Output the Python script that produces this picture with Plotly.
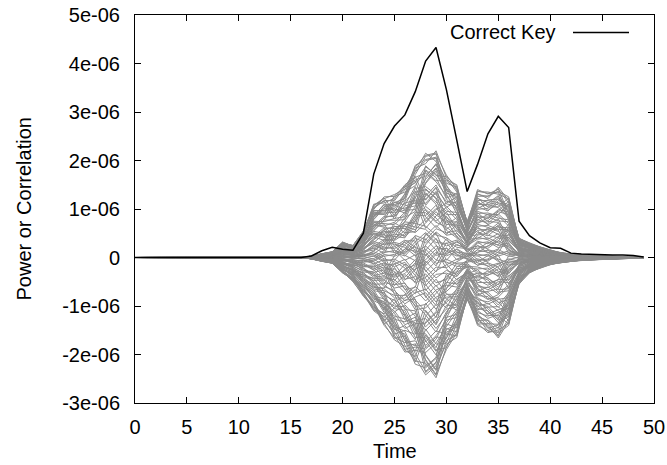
import plotly.graph_objects as go

# ---- data (values in units of 1e-6) ----
time = list(range(50))

correct_key = [0, 0, 0, 0, 0, 0, 0, 0, 0, 0,
               0, 0, 0, 0, 0, 0, 0, 0.03, 0.14, 0.21,
               0.17, 0.15, 0.50, 1.72, 2.35, 2.71, 2.94, 3.42, 4.05, 4.33,
               3.46, 2.42, 1.36, 1.92, 2.55, 2.91, 2.68, 0.75, 0.45, 0.30,
               0.20, 0.19, 0.09, 0.07, 0.06, 0.05, 0.05, 0.05, 0.04, 0.01]

# upper / lower extent of the other-key correlation band (magnitudes)
gray_upper = [0, 0, 0, 0, 0, 0, 0, 0, 0, 0,
              0, 0, 0, 0, 0, 0, 0, 0.03, 0.08, 0.12,
              0.32, 0.25, 0.55, 1.10, 1.25, 1.30, 1.50, 1.90, 2.15, 2.20,
              1.70, 1.50, 0.75, 1.40, 1.35, 1.45, 1.25, 0.40, 0.30, 0.22,
              0.15, 0.10, 0.07, 0.05, 0.04, 0.03, 0.02, 0.02, 0.01, 0.01]
gray_lower = [0, 0, 0, 0, 0, 0, 0, 0, 0, 0,
              0, 0, 0, 0, 0, 0, 0, 0.03, 0.08, 0.12,
              0.32, 0.50, 0.80, 1.10, 1.40, 1.70, 1.95, 2.20, 2.42, 2.48,
              1.90, 1.65, 0.87, 1.40, 1.55, 1.66, 1.40, 0.55, 0.32, 0.22,
              0.15, 0.11, 0.08, 0.06, 0.05, 0.04, 0.03, 0.02, 0.02, 0.01]
# relative positions of the other-key lines inside the band (two families)
gray_levels_a = [-1.0, -0.97, -0.94, -0.9, -0.87, -0.84, -0.81, -0.78, -0.75, -0.71,
                 -0.68, -0.65, -0.62, -0.59, -0.56, -0.52, -0.49, -0.46, -0.43, -0.4,
                 -0.37, -0.33, -0.3, -0.27, -0.24, -0.21, -0.17, -0.14, -0.11, -0.08,
                 -0.05, -0.02, 0.02, 0.05, 0.08, 0.11, 0.14, 0.17, 0.21, 0.24,
                 0.27, 0.3, 0.33, 0.37, 0.4, 0.43, 0.46, 0.49, 0.52, 0.56,
                 0.59, 0.62, 0.65, 0.68, 0.71, 0.75, 0.78, 0.81, 0.84, 0.87,
                 0.9, 0.94, 0.97, 1.0]
gray_levels_b = [-0.98, -0.93, -0.88, -0.83, -0.77, -0.72, -0.66, -0.61, -0.55, -0.5,
                 -0.45, -0.39, -0.34, -0.28, -0.23, -0.18, -0.12, -0.07, -0.03, 0.03,
                 0.07, 0.12, 0.18, 0.23, 0.28, 0.34, 0.39, 0.45, 0.5, 0.55,
                 0.61, 0.66, 0.72, 0.77, 0.83, 0.88, 0.93, 0.98]
# how far lines jump in rank between consecutive samples
rank_jump_a = [1, 1, 1, 1, 1, 1, 1, 1, 1, 1,
               1, 1, 1, 1, 1, 1, 1, 1, 2, 1,
               3, 1, 2, 3, 1, 2, 4, 2, 3, 1,
               2, 3, 2, 1, 3, 2, 4, 1, 2, 1,
               3, 1, 2, 1, 2, 1, 1, 1, 1, 1]
rank_jump_b = [1, 1, 1, 1, 1, 1, 1, 1, 1, 1,
               1, 1, 1, 1, 1, 1, 1, 2, 1, 2,
               1, 3, 1, 2, 5, 3, 1, 6, 2, 4,
               3, 1, 4, 2, 1, 5, 1, 3, 1, 2,
               1, 2, 1, 3, 1, 2, 1, 1, 1, 1]

y_tickvals = [-3, -2, -1, 0, 1, 2, 3, 4, 5]
y_ticktext = ["-3e-06", "-2e-06", "-1e-06", "0", "1e-06", "2e-06", "3e-06", "4e-06", "5e-06"]
x_tickvals = [0, 5, 10, 15, 20, 25, 30, 35, 40, 45, 50]

SCALE = 1e-6


def band_lines(levels, jumps):
    n = len(levels)
    ranks = list(range(n))
    paths = [[] for _ in range(n)]
    for t in time:
        for i in range(n):
            f = levels[ranks[i]]
            v = f * (gray_upper[t] if f >= 0 else gray_lower[t])
            paths[i].append(v * SCALE)
        d = jumps[t]
        new = []
        for r in ranks:
            blk = r // (2 * d)
            off = r % (2 * d)
            nr = blk * 2 * d + ((off + d) % (2 * d))
            new.append(nr if nr < n else r)
        ranks = new
    return paths


gx, gy = [], []
for p in band_lines(gray_levels_a, rank_jump_a) + band_lines(gray_levels_b, rank_jump_b):
    gx += time + [None]
    gy += p + [None]

fig = go.Figure()
fig.add_trace(go.Scatter(x=gx, y=gy, mode="lines",
                         line=dict(color="#8a8a8a", width=1),
                         showlegend=False, hoverinfo="skip"))
fig.add_trace(go.Scatter(x=time, y=[v * SCALE for v in correct_key], mode="lines",
                         line=dict(color="black", width=1.5),
                         name="Correct Key", showlegend=False))

FONT = "Liberation Sans, Arial, Helvetica, sans-serif"
L, R, T, B = 135, 13, 15, 62
W, H = 667, 465

fig.update_layout(
    width=W, height=H,
    margin=dict(l=L, r=R, t=T, b=B, autoexpand=False),
    plot_bgcolor="white", paper_bgcolor="white",
    font=dict(family=FONT, size=20, color="black"),
    showlegend=False,
)
fig.update_xaxes(range=[0, 50], tickvals=x_tickvals, ticks="inside", ticklen=6,
                 tickcolor="black", showline=True, linecolor="black", linewidth=1,
                 mirror="allticks", showgrid=False, zeroline=False,
                 ticklabelstandoff=6, automargin=False)
fig.update_yaxes(range=[-3 * SCALE, 5 * SCALE],
                 tickvals=[v * SCALE for v in y_tickvals], ticktext=y_ticktext,
                 ticks="inside", ticklen=6, tickcolor="black",
                 showline=True, linecolor="black", linewidth=1,
                 mirror="allticks", showgrid=False, zeroline=False,
                 ticklabelstandoff=10, automargin=False)

pw = W - L - R
ph = H - T - B
fig.add_annotation(text="Time", xref="paper", yref="paper", x=0.5, y=0,
                   xanchor="center", yanchor="middle", yshift=-(451 - (H - B)),
                   showarrow=False, font=dict(size=20))
fig.add_annotation(text="Power or Correlation", xref="paper", yref="paper",
                   x=0, y=0.5, xanchor="center", yanchor="middle",
                   xshift=23.5 - L, textangle=-90, showarrow=False,
                   font=dict(size=20))
# key
key_y = (H - B - 32.5) / ph
fig.add_annotation(text="Correct Key", xref="paper", yref="paper",
                   x=(558 - L) / pw, y=key_y, xanchor="right", yanchor="middle",
                   showarrow=False, font=dict(size=20))
fig.add_shape(type="line", xref="paper", yref="paper",
              x0=(573 - L) / pw, x1=(629 - L) / pw, y0=key_y, y1=key_y,
              line=dict(color="black", width=1.5))

fig.write_html("out.html", config={"displayModeBar": False},
               post_script="document.body.style.margin='0';document.body.style.overflow='hidden';")
